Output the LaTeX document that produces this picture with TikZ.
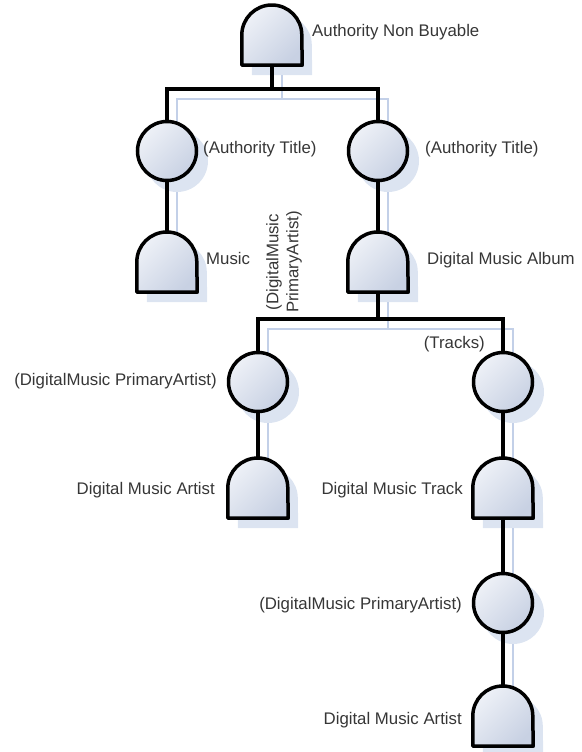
\documentclass[tikz,border=0pt]{standalone}
\usepackage{fontspec}
\setmainfont{Liberation Sans}
\usetikzlibrary{backgrounds}

\definecolor{fillTop}{HTML}{EEF1F7}
\definecolor{fillBot}{HTML}{C8D1E3}
\definecolor{shadowFill}{HTML}{DCE4F1}
\definecolor{shadowLine}{HTML}{C3D0E8}
\definecolor{labelGrey}{HTML}{363636}

\tikzset{
    link/.style={line width=3.5pt, line join=miter},
    ring/.style={circle, draw, line width=3.5pt, minimum size=59, inner sep=0pt,
        top color=fillTop, bottom color=fillBot, shading angle=45},
    domebox/.style={rectangle, minimum width=60, minimum height=60, inner sep=0pt},
    domeline/.style={draw, line width=3.5pt, line join=round,
        top color=fillTop, bottom color=fillBot, shading angle=45},
    shd/.style={shift={(10,-10)}},
    shadowlink/.style={shadowLine, line width=2pt},
    lbl/.style={font=\fontsize{16.8}{20}\selectfont, text=labelGrey, inner sep=0pt}
}

\begin{document}
\begin{tikzpicture}[x=1pt, y=1pt]
    \useasboundingbox (0,0) rectangle (581,-752);

    % --- Knoten ---
    % Oberste Ebene
    \node[domebox] (anb) at (272,-35) {};
    % Authority Title Zweige
    \node[ring] (tA1) at (167,-151) {};
    \node[ring] (tA2) at (378,-151) {};
    \node[domebox] (mus) at (167,-262) {};
    \node[domebox] (alb) at (378,-262) {};
    % Album Zweige
    \node[ring] (pa1) at (258,-382) {};
    \node[ring] (trk) at (503,-382) {};
    \node[domebox] (dma1) at (258,-488) {};
    \node[domebox] (dmt) at (503,-488) {};
    \node[ring] (pa2) at (503,-603) {};
    \node[domebox] (dma2) at (503,-716) {};

    % Sammelschienen
    \coordinate (bus1) at (272,-89);
    \coordinate (bus2) at (378,-319);

    % --- Schatten ---
    \begin{scope}[on background layer]
        \foreach \d in {anb,mus,alb,dma1,dmt,dma2}
            \fill[shadowFill] ([shd]\d.south west) -- ([shd]\d.west)
                arc[start angle=180, end angle=0, radius=30pt] -- ([shd]\d.south east) -- cycle;
        \foreach \c in {tA1,tA2,pa1,trk,pa2}
            \fill[shadowFill] ([shd]\c.center) circle (31pt);
        \draw[shadowlink] ([shd]anb.south) -- ([shd]bus1) -| ([shd]tA1.north);
        \draw[shadowlink] ([shd]bus1) -| ([shd]tA2.north);
        \draw[shadowlink] ([shd]tA1.south) -- ([shd]mus.north);
        \draw[shadowlink] ([shd]tA2.south) -- ([shd]alb.north);
        \draw[shadowlink] ([shd]alb.south) -- ([shd]bus2) -| ([shd]pa1.north);
        \draw[shadowlink] ([shd]bus2) -| ([shd]trk.north);
        \draw[shadowlink] ([shd]pa1.south) -- ([shd]dma1.north);
        \draw[shadowlink] ([shd]trk.south) -- ([shd]dmt.north);
        \draw[shadowlink] ([shd]dmt.south) -- ([shd]pa2.north);
        \draw[shadowlink] ([shd]pa2.south) -- ([shd]dma2.north);
    \end{scope}

    % --- Verbindungen ---
    \draw[link] (anb.south) -- (bus1) -| (tA1.north);
    \draw[link] (bus1) -| (tA2.north);
    \draw[link] (tA1) -- (mus);
    \draw[link] (tA2) -- (alb);
    \draw[link] (alb.south) -- (bus2) -| (pa1.north);
    \draw[link] (bus2) -| (trk.north);
    \draw[link] (pa1) -- (dma1);
    \draw[link] (trk) -- (dmt);
    \draw[link] (dmt) -- (pa2);
    \draw[link] (pa2) -- (dma2);

    % --- Kuppelformen ---
    \foreach \d in {anb,mus,alb,dma1,dmt,dma2}
        \path[domeline] (\d.south west) -- (\d.west)
            arc[start angle=180, end angle=0, radius=30pt] -- (\d.south east) -- cycle;

    % --- Beschriftungen ---
    \node[lbl, anchor=mid west] (lanb) at (312,-34) {Authority Non Buyable};
    \node[lbl, anchor=mid west] (ltA1) at (203,-151) {(Authority Title)};
    \node[lbl, anchor=mid west] (ltA2) at (425,-151) {(Authority Title)};
    \node[lbl, anchor=mid west] (lmus) at (206,-262) {Music};
    \node[lbl, anchor=mid west] (lalb) at (427,-262) {Digital Music Album};
    \node[lbl, rotate=90, align=center] (lpaRot) at (284,-262) {(DigitalMusic\\PrimaryArtist)};
    \node[lbl, anchor=mid east] (ltrk) at (485,-346) {(Tracks)};
    \node[lbl, anchor=mid east] (lpa1) at (217,-383) {(DigitalMusic PrimaryArtist)};
    \node[lbl, anchor=mid east] (ldma1) at (215,-492) {Digital Music Artist};
    \node[lbl, anchor=mid east] (ldmt) at (463,-492) {Digital Music Track};
    \node[lbl, anchor=mid east] (lpa2) at (462,-607) {(DigitalMusic PrimaryArtist)};
    \node[lbl, anchor=mid east] (ldma2) at (462,-722) {Digital Music Artist};
\end{tikzpicture}
\end{document}
